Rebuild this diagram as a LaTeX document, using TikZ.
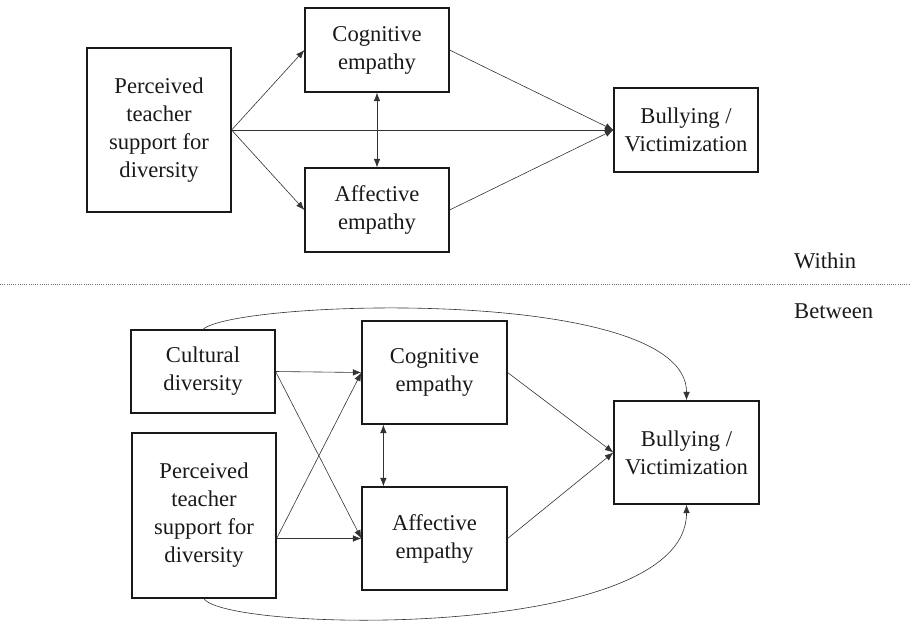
\documentclass[tikz,border=0pt]{standalone}
\usepackage{fontspec}
\setmainfont{Liberation Serif}
\usetikzlibrary{arrows.meta,calc}
\begin{document}
\begin{tikzpicture}[x=1pt,y=-1pt,
  box/.style={draw=black!90, line width=1.2pt, align=center, inner sep=0pt, text=black!90,
              font=\fontsize{22.6}{28}\selectfont},
  lbl/.style={anchor=west, inner sep=0pt, text=black!90, font=\fontsize{22.6}{28}\selectfont},
  conn/.style={draw=black!80, line width=0.6pt, -{Latex[length=8.5pt,width=6.5pt]}},
  dconn/.style={draw=black!80, line width=0.6pt, {Latex[length=8.5pt,width=6.5pt]}-{Latex[length=8.5pt,width=6.5pt]}}]
\useasboundingbox (0,0) rectangle (910,622);

% ---- Within level ----
\node[box, minimum width=144pt, minimum height=164pt] (pts1) at (159,130) {Perceived\\teacher\\support for\\diversity};
\node[box, minimum width=144pt, minimum height=84pt] (cog1) at (377,50) {Cognitive\\empathy};
\node[box, minimum width=144pt, minimum height=84pt] (aff1) at (377,210) {Affective\\empathy};
\node[box, minimum width=144pt, minimum height=84pt] (bul1) at (686,130) {Bullying /\\Victimization};

\draw[conn] (pts1.east) -- (cog1.west);
\draw[conn] (pts1.east) -- (aff1.west);
\draw[conn] (pts1.east) -- (bul1.west);
\draw[conn] (cog1.east) -- (bul1.west);
\draw[conn] (aff1.east) -- (bul1.west);
\draw[dconn] (cog1.south) -- (aff1.north);

% ---- separator ----
\coordinate (sepL) at (0,284);
\coordinate (sepR) at (910,284);
\draw[black!55, line width=0.6pt, dash pattern=on 1pt off 1.2pt] (sepL) -- (sepR);
\node[lbl] (within) at (794,261) {Within};
\node[lbl] (between) at (794,311) {Between};

% ---- Between level ----
\node[box, minimum width=144pt, minimum height=83pt] (cult) at (203,371.5) {Cultural\\diversity};
\node[box, minimum width=144pt, minimum height=165pt] (pts2) at (204,515.5) {Perceived\\teacher\\support for\\diversity};
\node[box, minimum width=145pt, minimum height=103pt] (cog2) at (434.5,372.5) {Cognitive\\empathy};
\node[box, minimum width=145pt, minimum height=103pt] (aff2) at (434.5,538.5) {Affective\\empathy};
\node[box, minimum width=145pt, minimum height=103pt] (bul2) at (686.5,452.5) {Bullying /\\Victimization};

\coordinate (p2o) at (pts2.east |- aff2.west);
\draw[conn] (cult.east) -- (cog2.west);
\draw[conn] (cult.east) -- (aff2.west);
\draw[conn] (p2o) -- (cog2.west);
\draw[conn] (p2o) -- (aff2.west);
\draw[conn] (cog2.east) -- (bul2.west);
\draw[conn] (aff2.east) -- (bul2.west);
\draw[dconn] ([xshift=22pt]cog2.south west) -- ([xshift=22pt]aff2.north west);
\draw[conn] (cult.north) .. controls (235,300) and (687,285) .. (bul2.north);
\draw[conn] (pts2.south) .. controls (225,632) and (687,642) .. (bul2.south);
\end{tikzpicture}
\end{document}
